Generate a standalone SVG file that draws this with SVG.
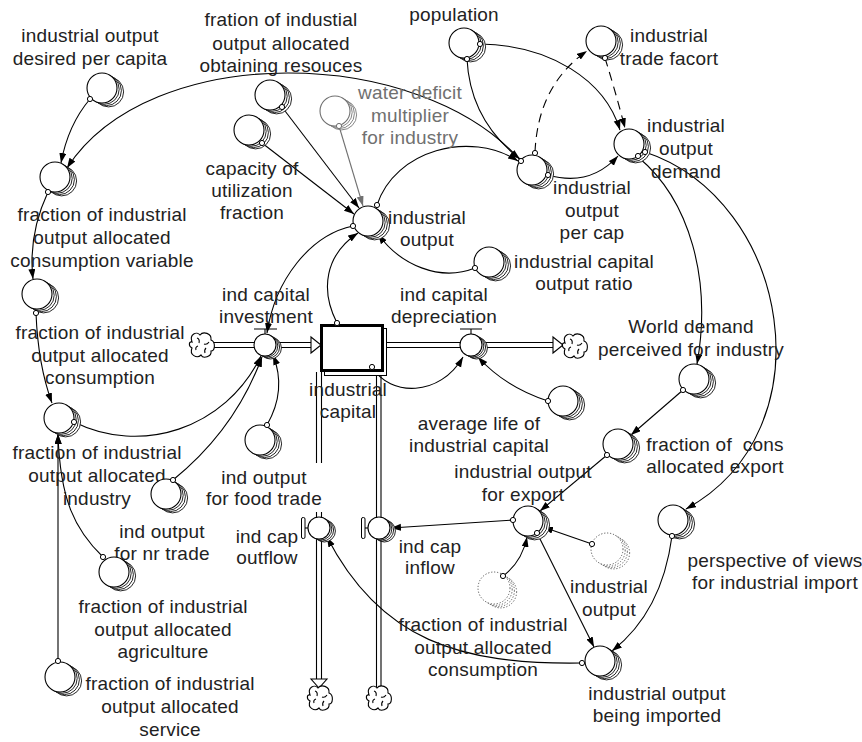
<svg xmlns="http://www.w3.org/2000/svg" xmlns:xlink="http://www.w3.org/1999/xlink" width="862" height="742" viewBox="0 0 862 742">
<style>
.t{font-family:'Liberation Sans',Arial,sans-serif;font-size:19px;letter-spacing:0.2px;fill:#222;text-anchor:middle}
.g{fill:#707070}
.c{fill:#fff;stroke:#000;stroke-width:1.1}
.s{fill:#fff;stroke:#000;stroke-width:0.85}
.cg{fill:#fff;stroke:#707070;stroke-width:1.1}
.sg{fill:#fff;stroke:#707070;stroke-width:0.85}
.cd{fill:#fff;stroke:#555;stroke-width:1;stroke-dasharray:1.2 1.8}
.ln{fill:none;stroke:#000;stroke-width:1.1}
.lg{fill:none;stroke:#707070;stroke-width:1.1}
.dash{stroke-dasharray:9 6}
.dot{fill:#fff;stroke:#000;stroke-width:1}
.dotg{fill:#fff;stroke:#707070;stroke-width:1}
.pipe{fill:none;stroke:#000;stroke-width:1.1}
.hol{fill:#fff;stroke:#000;stroke-width:1.1}
</style>
<defs>
<marker id="ar" markerUnits="userSpaceOnUse" markerWidth="11" markerHeight="8" refX="10" refY="3.5" orient="auto"><path d="M0,0 L10,3.5 L0,7 Z" fill="#000"/></marker>
<marker id="arg" markerUnits="userSpaceOnUse" markerWidth="11" markerHeight="8" refX="10" refY="3.5" orient="auto"><path d="M0,0 L10,3.5 L0,7 Z" fill="#707070"/></marker>
<g id="aux"><circle class="s" cx="6.6" cy="3.9" r="15"/><circle class="s" cx="4.4" cy="2.6" r="15"/><circle class="s" cx="2.2" cy="1.3" r="15"/><circle class="c" cx="0" cy="0" r="15"/></g>
<g id="auxg"><circle class="sg" cx="6.6" cy="3.9" r="15"/><circle class="sg" cx="4.4" cy="2.6" r="15"/><circle class="sg" cx="2.2" cy="1.3" r="15"/><circle class="cg" cx="0" cy="0" r="15"/></g>
<g id="auxd"><circle class="cd" cx="6.6" cy="3.9" r="16"/><circle class="cd" cx="4.4" cy="2.6" r="16"/><circle class="cd" cx="2.2" cy="1.3" r="16"/><circle class="cd" cx="0" cy="0" r="16"/></g>
<g id="valve"><circle class="s" cx="5.4" cy="3" r="11"/><circle class="s" cx="3.6" cy="2" r="11"/><circle class="s" cx="1.8" cy="1" r="11"/><circle class="c" cx="0" cy="0" r="11"/></g>
<g id="cloud"><path class="c" d="M-10,-3 C-13,-11 -5,-14 -2,-10 C1,-14 10,-12 9,-5 C14,-3 13,6 9,6 C10,12 1,14 -1,10 C-5,14 -13,10 -10,3 C-14,1 -13,-4 -10,-3 Z"/><path class="ln" d="M-5,-7 q3,1 2,5 M7,-3 q-2,3 -5,2 M-6,5 q-1,-3 2,-4 M3,8 q-1,-3 1,-5"/></g>
</defs>
<rect width="862" height="742" fill="#fff"/>

<g id="flows">
<path class="pipe" d="M213,342.5 H311 M213,347.5 H311"/>
<path class="pipe" d="M383,342.5 H553 M383,347.5 H553"/>
<path class="pipe" d="M316.5,372 V463 M321.5,372 V463 M316.5,512 V679 M321.5,512 V679"/>
<path class="pipe" d="M376.5,372 V687 M381,372 V687"/>
<path class="hol" d="M311,337 L321,345 L311,353 Z"/>
<path class="hol" d="M553,337 L563,345 L553,353 Z"/>
<path class="hol" d="M311,679 L327,679 L319,688 Z"/>
<use href="#cloud" x="202" y="345"/>
<use href="#cloud" x="575" y="346"/>
<use href="#cloud" x="320" y="698"/>
<use href="#cloud" x="379" y="698"/>
</g>

<g id="connectors">
<path class="ln" d="M90,99 Q68,125 61,163" marker-end="url(#ar)"/>
<path class="ln" d="M521,161 C420,45 150,40 67,168" marker-end="url(#ar)"/>
<path class="ln" d="M467,59 Q470,120 520,159" marker-end="url(#ar)"/>
<path class="ln" d="M480,44 C550,45 605,80 620,130" marker-end="url(#ar)"/>
<path class="ln dash" d="M535,152 Q538,85 587,51" marker-end="url(#ar)"/>
<path class="ln dash" d="M605,58 Q615,90 625,128" marker-end="url(#ar)"/>
<path class="ln" d="M548,175 Q590,187 618,156" marker-end="url(#ar)"/>
<path class="ln" d="M638,157 C690,200 712,280 697,364" marker-end="url(#ar)"/>
<path class="ln" d="M645,152 C790,200 830,430 686,509" marker-end="url(#ar)"/>
<path class="ln" d="M683,390 L631,435" marker-end="url(#ar)"/>
<path class="ln" d="M607,455 L540,511" marker-end="url(#ar)"/>
<path class="ln" d="M592,544 L543,527" marker-end="url(#ar)"/>
<path class="ln" d="M503,576 Q522,562 527,537" marker-end="url(#ar)"/>
<path class="ln" d="M513,520 L391,528" marker-end="url(#ar)"/>
<path class="ln" d="M537,533 L594,647" marker-end="url(#ar)"/>
<path class="ln" d="M672,536 Q662,612 612,651" marker-end="url(#ar)"/>
<path class="ln" d="M582,663 C460,665 380,640 327,537" marker-end="url(#ar)"/>
<path class="ln" d="M377,205 C395,150 470,130 518,161" marker-end="url(#ar)"/>
<path class="ln" d="M282,107 L359,208" marker-end="url(#ar)"/>
<path class="ln" d="M262,143 L354,214" marker-end="url(#ar)"/>
<path class="lg" d="M339,126 L363,206" marker-end="url(#arg)"/>
<path class="ln" d="M353,226 C310,235 275,280 267,333" marker-end="url(#ar)"/>
<path class="ln" d="M337,323 C320,290 325,255 358,233" marker-end="url(#ar)"/>
<path class="ln" d="M475,268 C440,282 400,265 378,234" marker-end="url(#ar)"/>
<path class="ln" d="M372,367 C390,397 440,397 463,357" marker-end="url(#ar)"/>
<path class="ln" d="M548,401 Q505,387 478,357" marker-end="url(#ar)"/>
<path class="ln" d="M48,192 Q28,235 33,279" marker-end="url(#ar)"/>
<path class="ln" d="M36,313 Q38,365 52,403" marker-end="url(#ar)"/>
<path class="ln" d="M74,422 C140,455 225,430 261,356" marker-end="url(#ar)"/>
<path class="ln" d="M58,661 L58,434" marker-end="url(#ar)"/>
<path class="ln" d="M103,557 C75,530 60,500 58,434" marker-end="url(#ar)"/>
<path class="ln" d="M173,480 Q235,430 262,357" marker-end="url(#ar)"/>
<path class="ln" d="M267,425 Q287,390 273,355" marker-end="url(#ar)"/>
</g>

<g id="stock-industrial-capital">
<rect x="324.5" y="328.5" width="62" height="47" fill="#fff" stroke="#000" stroke-width="1"/>
<rect x="321.5" y="325.5" width="61" height="45" fill="#fff" stroke="#000" stroke-width="3"/>
<text class="t"><tspan x="348" y="395.5">industrial</tspan><tspan x="348" y="418">capital</tspan></text>
</g>

<g id="ind-capital-investment">
<use href="#valve" x="265" y="345"/>
<path class="ln" d="M254,329 H277 M265,329 V334"/>
<text class="t"><tspan x="266" y="301">ind capital</tspan><tspan x="266" y="323">investment</tspan></text>
</g>
<g id="ind-capital-depreciation">
<use href="#valve" x="471" y="345"/>
<path class="ln" d="M460,329 H482 M471,329 V334"/>
<text class="t"><tspan x="444" y="301">ind capital</tspan><tspan x="444" y="323">depreciation</tspan></text>
</g>
<g id="ind-cap-outflow">
<use href="#valve" x="319" y="528"/>
<rect x="301.5" y="517.5" width="3.5" height="21" rx="1.5" fill="#fff" stroke="#000" stroke-width="1"/>
<path class="ln" d="M305,528 H308"/>
<text class="t"><tspan x="267" y="543">ind cap</tspan><tspan x="267" y="564">outflow</tspan></text>
</g>
<g id="ind-cap-inflow">
<use href="#valve" x="379" y="528"/>
<rect x="361.5" y="517.5" width="3.5" height="21" rx="1.5" fill="#fff" stroke="#000" stroke-width="1"/>
<path class="ln" d="M365,528 H368"/>
<text class="t"><tspan x="430" y="552.5">ind cap</tspan><tspan x="430" y="574">inflow</tspan></text>
</g>

<g id="industrial-output-desired-per-capita">
<use href="#aux" x="102" y="88"/>
<text class="t"><tspan x="90" y="42">industrial output</tspan><tspan x="90" y="64.5">desired per capita</tspan></text>
</g>
<g id="fration-obtaining-resouces">
<use href="#aux" x="270" y="95"/>
<text class="t"><tspan x="281" y="26">fration of industial</tspan><tspan x="281" y="49.5">output allocated</tspan><tspan x="281" y="72">obtaining resouces</tspan></text>
</g>
<g id="capacity-of-utilization-fraction">
<use href="#aux" x="249" y="130"/>
<text class="t"><tspan x="252" y="175">capacity of</tspan><tspan x="252" y="197">utilization</tspan><tspan x="252" y="219">fraction</tspan></text>
</g>
<g id="water-deficit-multiplier">
<use href="#auxg" x="335" y="111"/>
<text class="t g"><tspan x="410" y="99">water deficit</tspan><tspan x="410" y="122">multiplier</tspan><tspan x="410" y="144">for industry</tspan></text>
</g>
<g id="industrial-output">
<use href="#aux" x="368" y="221"/>
<text class="t"><tspan x="427" y="224">industrial</tspan><tspan x="427" y="246">output</tspan></text>
</g>
<g id="population">
<use href="#aux" x="464" y="43"/>
<text class="t"><tspan x="454" y="21">population</tspan></text>
</g>
<g id="industrial-output-per-cap">
<use href="#aux" x="532" y="170"/>
<text class="t"><tspan x="592" y="193.5">industrial</tspan><tspan x="592" y="216.5">output</tspan><tspan x="592" y="239">per cap</tspan></text>
</g>
<g id="industrial-trade-facort">
<use href="#aux" x="601" y="41"/>
<text class="t"><tspan x="669" y="42">industrial</tspan><tspan x="669" y="65">trade facort</tspan></text>
</g>
<g id="industrial-output-demand">
<use href="#aux" x="629" y="144"/>
<text class="t"><tspan x="686" y="132">industrial</tspan><tspan x="686" y="155">output</tspan><tspan x="686" y="178">demand</tspan></text>
</g>
<g id="fraction-consumption-variable">
<use href="#aux" x="55" y="177"/>
<text class="t"><tspan x="102" y="221">fraction of industrial</tspan><tspan x="102" y="244">output allocated</tspan><tspan x="102" y="267">consumption variable</tspan></text>
</g>
<g id="fraction-consumption">
<use href="#aux" x="37" y="294"/>
<text class="t"><tspan x="100" y="338.5">fraction of industrial</tspan><tspan x="100" y="361.5">output allocated</tspan><tspan x="100" y="384">consumption</tspan></text>
</g>
<g id="fraction-industry">
<use href="#aux" x="59" y="418"/>
<text class="t"><tspan x="97" y="459">fraction of industrial</tspan><tspan x="97" y="482">output allocated</tspan><tspan x="97" y="505">industry</tspan></text>
</g>
<g id="ind-output-for-nr-trade">
<use href="#aux" x="166" y="494"/>
<text class="t"><tspan x="162" y="538">ind output</tspan><tspan x="162" y="560">for nr trade</tspan></text>
</g>
<g id="fraction-agriculture">
<use href="#aux" x="114" y="572"/>
<text class="t"><tspan x="163" y="612.5">fraction of industrial</tspan><tspan x="163" y="635.5">output allocated</tspan><tspan x="163" y="658">agriculture</tspan></text>
</g>
<g id="fraction-service">
<use href="#aux" x="60" y="677"/>
<text class="t"><tspan x="170" y="690">fraction of industrial</tspan><tspan x="170" y="713">output allocated</tspan><tspan x="170" y="736">service</tspan></text>
</g>
<g id="ind-output-for-food-trade">
<use href="#aux" x="260" y="440"/>
<text class="t"><tspan x="264" y="483.5">ind output</tspan><tspan x="264" y="505">for food trade</tspan></text>
</g>
<g id="industrial-capital-output-ratio">
<use href="#aux" x="489" y="262"/>
<text class="t"><tspan x="584" y="268">industrial capital</tspan><tspan x="584" y="290">output ratio</tspan></text>
</g>
<g id="average-life-of-industrial-capital">
<use href="#aux" x="563" y="401"/>
<text class="t"><tspan x="479" y="430">average life of</tspan><tspan x="479" y="451.5">industrial capital</tspan></text>
</g>
<g id="world-demand-perceived">
<use href="#aux" x="694" y="379"/>
<text class="t"><tspan x="691" y="332.5">World demand</tspan><tspan x="691" y="355.5">perceived for industry</tspan></text>
</g>
<g id="fraction-cons-allocated-export">
<use href="#aux" x="618" y="444"/>
<text class="t"><tspan x="715" y="450.5">fraction of&#160; cons</tspan><tspan x="715" y="473">allocated export</tspan></text>
</g>
<g id="industrial-output-for-export">
<use href="#aux" x="528" y="521"/>
<text class="t"><tspan x="523" y="478">industrial output</tspan><tspan x="523" y="500.5">for export</tspan></text>
</g>
<g id="industrial-output-shadow">
<use href="#auxd" x="607" y="549"/>
<text class="t"><tspan x="609" y="593">industrial</tspan><tspan x="609" y="615.5">output</tspan></text>
</g>
<g id="fraction-consumption-shadow">
<use href="#auxd" x="494" y="588"/>
<text class="t"><tspan x="483" y="631">fraction of industrial</tspan><tspan x="483" y="653.5">output allocated</tspan><tspan x="483" y="676">consumption</tspan></text>
</g>
<g id="perspective-of-views">
<use href="#aux" x="673" y="520"/>
<text class="t"><tspan x="775" y="566.5">perspective of views</tspan><tspan x="775" y="588.5">for industrial import</tspan></text>
</g>
<g id="industrial-output-being-imported">
<use href="#aux" x="600" y="661"/>
<text class="t"><tspan x="657" y="699.5">industrial output</tspan><tspan x="657" y="722">being imported</tspan></text>
</g>

<g id="connector-dots">
<circle class="dot" cx="90" cy="99" r="2.6"/>
<circle class="dot" cx="521" cy="161" r="2.6"/>
<circle class="dot" cx="467" cy="59" r="2.6"/>
<circle class="dot" cx="480" cy="44" r="2.6"/>
<circle class="dot" cx="535" cy="153" r="2.6"/>
<circle class="dot" cx="605" cy="58" r="2.6"/>
<circle class="dot" cx="548" cy="175" r="2.6"/>
<circle class="dot" cx="638" cy="156" r="2.6"/>
<circle class="dot" cx="645" cy="152" r="2.6"/>
<circle class="dot" cx="683" cy="390" r="2.6"/>
<circle class="dot" cx="607" cy="455" r="2.6"/>
<circle class="dot" cx="592" cy="544" r="2.6"/>
<circle class="dot" cx="503" cy="576" r="2.6"/>
<circle class="dot" cx="513" cy="520" r="2.6"/>
<circle class="dot" cx="537" cy="533" r="2.6"/>
<circle class="dot" cx="672" cy="536" r="2.6"/>
<circle class="dot" cx="582" cy="663" r="2.6"/>
<circle class="dot" cx="377" cy="205" r="2.6"/>
<circle class="dot" cx="282" cy="107" r="2.6"/>
<circle class="dot" cx="262" cy="143" r="2.6"/>
<circle class="dotg" cx="339" cy="126" r="2.6"/>
<circle class="dot" cx="353" cy="226" r="2.6"/>
<circle class="dot" cx="337" cy="323" r="2.6"/>
<circle class="dot" cx="475" cy="268" r="2.6"/>
<circle class="dot" cx="372" cy="367" r="2.6"/>
<circle class="dot" cx="548" cy="401" r="2.6"/>
<circle class="dot" cx="48" cy="192" r="2.6"/>
<circle class="dot" cx="36" cy="313" r="2.6"/>
<circle class="dot" cx="74" cy="422" r="2.6"/>
<circle class="dot" cx="58" cy="661" r="2.6"/>
<circle class="dot" cx="103" cy="557" r="2.6"/>
<circle class="dot" cx="173" cy="480" r="2.6"/>
<circle class="dot" cx="267" cy="425" r="2.6"/>
</g>
</svg>
